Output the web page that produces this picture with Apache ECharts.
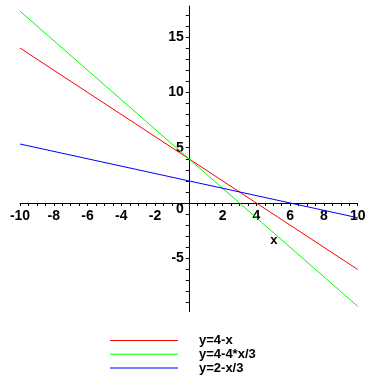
<!DOCTYPE html>
<html>
<head>
<meta charset="utf-8">
<script src="https://cdn.jsdelivr.net/npm/echarts@6/dist/echarts.min.js"></script>
<style>html,body{margin:0;padding:0;background:#fff;}#c{width:372px;height:387px;}</style>
</head>
<body>
<div id="c"></div>
<script>
// Data (endpoints of each straight line)
var xValues = [-10, 10];
var redY = [14, -6];          // y=4-x
var greenY = [17.33, -9.33];  // y=4-4*x/3
var blueY = [5.33, -1.33];    // y=2-x/3
var seriesNames = ['y=4-x', 'y=4-4*x/3', 'y=2-x/3'];
var xTickLabels = [-10, -8, -6, -4, -2, 2, 4, 6, 8, 10];
var yTickLabels = [-5, 0, 5, 10, 15];
var xMinorTicks = [-10,-9.5,-9,-8.5,-8,-7.5,-7,-6.5,-6,-5.5,-5,-4.5,-4,-3.5,-3,-2.5,-2,-1.5,-1,-0.5,0,0.5,1,1.5,2,2.5,3,3.5,4,4.5,5,5.5,6,6.5,7,7.5,8,8.5,9,9.5,10];
var yMinorTicks = [-9,-8,-7,-6,-5,-4,-3,-2,-1,0,1,2,3,4,5,6,7,8,9,10,11,12,13,14,15,16,17];

function pairs(xs, ys) { return xs.map(function (x, i) { return [x, ys[i]]; }); }

var W = 372, H = 387;
var gridLeft = 20, gridRight = 14.3, gridTop = 6, gridBottom = 75.5;
var xMin = -10, xMax = 10, yMin = -9.8, yMax = 17.8;
var plotW = W - gridLeft - gridRight, plotH = H - gridTop - gridBottom;
// shift axes so they cross at the origin
var xAxisOffset = -plotH * (0 - yMin) / (yMax - yMin);
var yAxisOffset = -plotW * (0 - xMin) / (xMax - xMin);

var tickFont = '"Liberation Sans Narrow", "Arial Narrow", "Liberation Sans", Arial, sans-serif';
var chart = echarts.init(document.getElementById('c'), null, {renderer: 'canvas'});
chart.setOption({
  animation: false,
  backgroundColor: '#ffffff',
  grid: {left: gridLeft, right: gridRight, top: gridTop, bottom: gridBottom, containLabel: false},
  xAxis: {
    type: 'value', min: xMin, max: xMax, position: 'bottom', offset: xAxisOffset,
    name: 'x', nameLocation: 'middle', nameGap: 31,
    nameTextStyle: {color: '#000', fontWeight: 'bold', fontSize: 13, fontFamily: tickFont, padding: [0, 0, 0, 170]},
    axisLine: {onZero: false, lineStyle: {color: '#000', width: 1}},
    axisTick: {show: true, length: 3, customValues: xMinorTicks, lineStyle: {color: '#000'}},
    axisLabel: {customValues: xTickLabels, color: '#000', fontWeight: 'bold', fontSize: 14, fontFamily: tickFont, margin: 6},
    splitLine: {show: false}
  },
  yAxis: {
    type: 'value', min: yMin, max: yMax, position: 'left', offset: yAxisOffset,
    axisLine: {onZero: false, lineStyle: {color: '#000', width: 1}},
    axisTick: {show: true, length: 3, customValues: yMinorTicks, lineStyle: {color: '#000'}},
    axisLabel: {
      customValues: yTickLabels, color: '#000', fontWeight: 'bold', fontSize: 14, fontFamily: tickFont, margin: 5,
      formatter: function (v) { return v === 0 ? '{z|0}' : String(v); },
      rich: {z: {padding: [12, 0, 0, 0], color: '#000', fontWeight: 'bold', fontSize: 14, fontFamily: tickFont}}
    },
    splitLine: {show: false}
  },
  legend: {
    orient: 'vertical', left: 110, top: 334, padding: 0,
    itemWidth: 68, itemHeight: 1, itemGap: 0.8,
    data: seriesNames.map(function (n) { return {name: n, icon: 'rect'}; }),
    textStyle: {color: '#000', fontWeight: 'bold', fontSize: 13, lineHeight: 12, fontFamily: '"Liberation Sans", Arial, sans-serif', padding: [0, 0, 0, 16]}
  },
  series: [
    {name: seriesNames[0], type: 'line', data: pairs(xValues, redY), symbol: 'none', lineStyle: {color: '#ff0000', width: 1}, itemStyle: {color: '#ff0000'}},
    {name: seriesNames[1], type: 'line', data: pairs(xValues, greenY), symbol: 'none', lineStyle: {color: '#00ff00', width: 1}, itemStyle: {color: '#00ff00'}},
    {name: seriesNames[2], type: 'line', data: pairs(xValues, blueY), symbol: 'none', lineStyle: {color: '#0000ff', width: 1}, itemStyle: {color: '#0000ff'}}
  ]
});
</script>
</body>
</html>
